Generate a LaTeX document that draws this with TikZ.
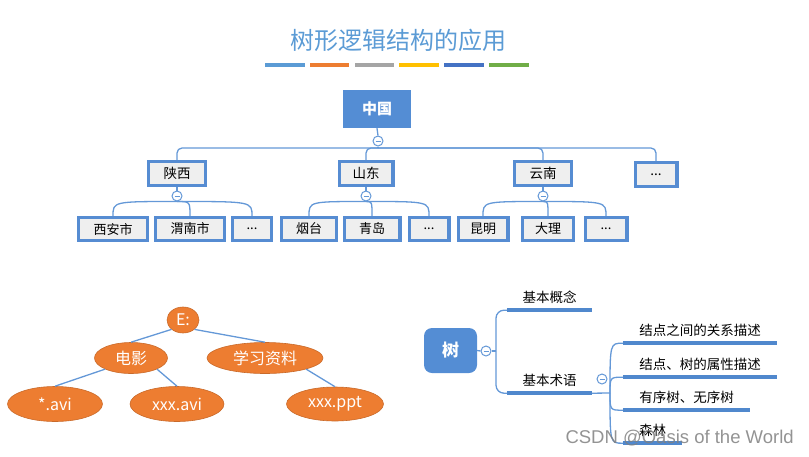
\documentclass[tikz,border=0pt]{standalone}
\usepackage{fontspec}
\setmainfont{Noto Sans CJK SC}
\newfontfamily\wmfont{Liberation Sans}
\usetikzlibrary{shapes.geometric, positioning}
\definecolor{titleblue}{RGB}{91,155,213}
\definecolor{rootblue}{RGB}{84,141,212}
\definecolor{boxblue}{RGB}{86,140,210}
\definecolor{boxgray}{RGB}{239,239,239}
\definecolor{linkblue}{RGB}{100,152,215}
\definecolor{ulblue}{RGB}{80,136,205}
\definecolor{fileorange}{RGB}{237,125,49}
\definecolor{bara}{RGB}{91,155,213}
\definecolor{barb}{RGB}{237,125,49}
\definecolor{barc}{RGB}{165,165,165}
\definecolor{bard}{RGB}{255,192,0}
\definecolor{bare}{RGB}{68,114,196}
\definecolor{barf}{RGB}{112,173,71}
\tikzset{
  title/.style={text=titleblue, font=\fontsize{24}{28}\selectfont},
  rootbox/.style={fill=rootblue, text=white, inner sep=0pt, font=\fontsize{15}{18}\selectfont\bfseries},
  provbox/.style={draw=boxblue, line width=3.3pt, fill=boxgray, inner sep=0pt, minimum height=23.7pt, font=\fontsize{13.5}{16}\selectfont},
  citybox/.style={provbox, minimum height=22.7pt, font=\fontsize{13}{16}\selectfont},
  toggle/.style={circle, draw=linkblue, line width=1pt, fill=white, inner sep=0pt, minimum size=10pt,
    path picture={\draw[linkblue, line width=1pt] ([xshift=-2.5pt]path picture bounding box.center) -- ([xshift=2.5pt]path picture bounding box.center);}},
  link/.style={draw=linkblue, line width=1.3pt},
  file/.style={ellipse, fill=fileorange, draw=fileorange!85!black, line width=0.6pt, text=white, inner sep=0pt, font=\fontsize{16}{19}\selectfont},
  topic/.style={inner sep=0pt, minimum height=26pt, font=\fontsize{13.5}{16}\selectfont},
  uline/.style={draw=ulblue, line width=4pt}
}
\begin{document}
\begin{tikzpicture}[x=1pt, y=-1pt]
    \useasboundingbox (0,0) rectangle (809,456);
    \node[title] (title) at (398,40) {树形逻辑结构的应用};
    \foreach \col [count=\i from 0] in {bara,barb,barc,bard,bare,barf}
        \fill[\col] (265+44.8*\i,63) rectangle ++(39.5,4);

    % province tree
    \node[rootbox, minimum width=68pt, minimum height=38pt] (cn) at (377,109) {中国};
    \node[toggle] (cn-tog) at (378,141) {};
    \coordinate (cn-hub) at (378,148);
    \node[provbox, minimum width=56.7pt] (sx) at (177,173.5) {陕西};
    \node[provbox, minimum width=53.7pt] (sd) at (366,173.5) {山东};
    \node[provbox, minimum width=56.7pt] (yn) at (543,173.5) {云南};
    \node[provbox, minimum width=41.7pt] (px) at (656,174.5) {...};
    \node[citybox, minimum width=68.7pt] (xa) at (113,229) {西安市};
    \node[citybox, minimum width=68.7pt] (wn) at (190,229) {渭南市};
    \node[citybox, minimum width=38.7pt] (sx3) at (252,229) {...};
    \node[citybox, minimum width=54.7pt] (yt) at (309,229) {烟台};
    \node[citybox, minimum width=55.7pt] (qd) at (372,229) {青岛};
    \node[citybox, minimum width=39.7pt] (sd3) at (429,229) {...};
    \node[citybox, minimum width=49.7pt] (km) at (483,229) {昆明};
    \node[citybox, minimum width=50.7pt] (dl) at (548,229) {大理};
    \node[citybox, minimum width=41.7pt] (yn3) at (606,229) {...};
    \draw[link] (cn.south) -- (cn-tog.north);
    \draw[link] (cn-tog.south) -- (cn-hub);
    \foreach \p in {sx,sd,yn,px}
        \draw[link, rounded corners=5pt] (cn-hub) -| (\p.north);
    \foreach \p/\x in {sx/177, sd/366, yn/543} {
        \node[toggle] (\p-tog) at (\x,196) {};
        \draw[link] (\p.south) -- (\p-tog.north);
    }
    \foreach \p/\k in {sx/xa, sx/wn, sx/sx3, sd/yt, sd/qd, sd/sd3, yn/km, yn/dl, yn/yn3}
        \draw[link] (\p-tog.south) .. controls (\p-tog.south -| \k.north) .. (\k.north);

    % file tree
    \node[file, minimum width=32pt, minimum height=26pt] (e) at (183,320) {E:};
    \node[file, minimum width=73pt, minimum height=31pt] (dy) at (131,358) {电影};
    \node[file, minimum width=116pt, minimum height=31pt] (xx) at (265,358) {学习资料};
    \node[file, minimum width=95pt, minimum height=35pt] (av1) at (55,404) {*.avi};
    \node[file, minimum width=94pt, minimum height=35pt] (av2) at (177,404) {xxx.avi};
    \node[file, minimum width=97pt, minimum height=34pt] (ppt) at (335,404) {xxx.ppt};
    \draw[link] (e.south west) -- (dy.north);
    \draw[link] (e.south east) -- (xx.north);
    \draw[link] (dy.south west) -- (av1.north);
    \draw[link] (dy.south east) -- (av2.north);
    \draw[link] (xx.south east) -- (ppt.north);

    % mind map
    \node[rootbox, rounded corners=8pt, minimum width=53pt, minimum height=45pt, font=\fontsize{17}{20}\selectfont\bfseries] (shu) at (450.5,350.5) {树};
    \node[toggle] (shu-tog) at (486,351) {};
    \coordinate (shu-j) at (496,351);
    \node[topic, minimum width=85pt] (gn) at (549.5,297) {基本概念};
    \node[topic, minimum width=85pt] (sy) at (549.5,380) {基本术语};
    \node[toggle] (sy-tog) at (602,379) {};
    \coordinate (sy-j) at (610,393);
    \node[topic, minimum width=154pt] (gx) at (700,330) {结点之间的关系描述};
    \node[topic, minimum width=154pt] (sxd) at (700,364) {结点、树的属性描述};
    \node[topic, minimum width=127pt] (yx) at (686.5,397) {有序树、无序树};
    \node[topic, minimum width=59pt] (sl) at (652.5,430) {森林};
    \draw[link] (shu.east) -- (shu-tog.west);
    \draw[link] (shu-tog.east) -- (shu-j);
    \draw[link, rounded corners=8pt] (shu-j) |- (gn.south west);
    \draw[link, rounded corners=8pt] (shu-j) |- (sy.south west);
    \draw[link] (sy.south east) -- (sy-j);
    \foreach \t in {gx,sxd,yx,sl}
        \draw[link] (sy-j) .. controls (sy-j |- \t.south west) .. (\t.south west);
    \foreach \t in {gn,sy,gx,sxd,yx,sl}
        \draw[uline] (\t.south west) -- (\t.south east);

    \node[anchor=west, text=black!50, opacity=0.85, font=\wmfont\fontsize{18.5}{22}\selectfont] (csdn) at (562,438) {CSDN @Oasis of the World};
\end{tikzpicture}
\end{document}
